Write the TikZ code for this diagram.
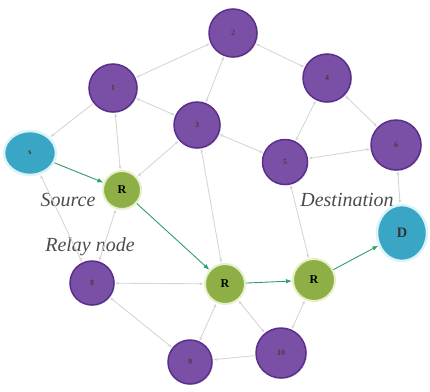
\documentclass[tikz,border=0pt]{standalone}
\usepackage{fontspec}
\setmainfont{Liberation Serif}
\usetikzlibrary{arrows.meta,shadows,shapes.geometric}
\definecolor{purp}{HTML}{7A4FA6}
\definecolor{purpd}{HTML}{5A2E8C}
\definecolor{grn}{HTML}{8DAF45}
\definecolor{grnb}{HTML}{E6F0C8}
\definecolor{blu}{HTML}{3AA6C6}
\definecolor{blub}{HTML}{DDF3FA}
\definecolor{edg}{HTML}{D6D6D6}
\definecolor{garr}{HTML}{2E9E6A}
\begin{document}
\begin{tikzpicture}[x=1pt,y=-1pt,
  pnode/.style={circle,fill=purp,draw=purpd,line width=1.5pt,minimum size=#1,inner sep=0pt,
     font=\footnotesize\bfseries,text=black!75,drop shadow={opacity=0.25,shadow xshift=1pt,shadow yshift=-1pt}},
  gnode/.style={circle,fill=grn,draw=grnb,line width=2pt,minimum size=#1,inner sep=0pt,
     font=\large\bfseries,text=black},
  bnode/.style={ellipse,fill=blu,draw=blub,line width=2.5pt,inner sep=0pt,text=black!80},
  gedge/.style={draw=edg,line width=0.9pt,{Latex[length=4pt,width=3pt]}-{Latex[length=4pt,width=3pt]}},
  gedge1/.style={draw=edg,line width=0.9pt,-{Latex[length=4pt,width=3pt]}},
  redge/.style={draw=garr,line width=0.9pt,-{Latex[length=6pt,width=4.5pt]}},
  lbl/.style={font=\itshape\fontsize{20}{24}\selectfont,text=black!70,inner sep=0pt}]
\useasboundingbox (0,0) rectangle (430,391);
% nodes
\node[pnode=48pt] (n2) at (233,33) {2};
\node[pnode=48pt] (n1) at (113,88) {1};
\node[pnode=48pt] (n4) at (327,78) {4};
\node[pnode=46pt] (n3) at (197,125) {3};
\node[pnode=45pt] (n5) at (285,162) {5};
\node[pnode=50pt] (n6) at (396,145) {6};
\node[pnode=44pt] (n8) at (92,283) {8};
\node[pnode=44pt] (n9) at (190,362) {9};
\node[pnode=50pt] (n10) at (281,353) {10};
\node[gnode=38pt] (r1) at (122,190) {R};
\node[gnode=40pt] (r2) at (225,284) {R};
\node[gnode=42pt] (r3) at (314,280) {R};
\node[bnode,minimum width=52pt,minimum height=44pt,font=\footnotesize\bfseries] (s) at (30,153) {s};
\node[bnode,minimum width=50pt,minimum height=56pt,font=\Large\bfseries] (d) at (402,233) {D};
% labels
\node[lbl] (ls) at (68,200) {Source};
\node[lbl] (lr) at (90,247) {Relay node};
\node[lbl] (ld) at (347,200) {Destination};
% gray links
\draw[gedge] (n2) -- (n1);
\draw[gedge] (n2) -- (n4);
\draw[gedge] (n3) -- (n2);
\draw[gedge1] (n1) -- (s);
\draw[gedge] (n1) -- (n3);
\draw[gedge] (n1) -- (r1);
\draw[gedge] (n3) -- (r1);
\draw[gedge] (n3) -- (n5);
\draw[gedge] (n4) -- (n5);
\draw[gedge] (n4) -- (n6);
\draw[gedge] (n5) -- (n6);
\draw[gedge] (n6) -- (d);
\draw[gedge] (n3) -- (r2);
\draw[gedge] (n5) -- (r3);
\draw[gedge] (s) -- (n8);
\draw[gedge] (r1) -- (n8);
\draw[gedge] (n8) -- (r2);
\draw[gedge] (n8) -- (n9);
\draw[gedge] (r2) -- (n9);
\draw[gedge] (r2) -- (n10);
\draw[gedge] (r3) -- (n10);
\draw[gedge1] (n10) -- (n9);
% route
\draw[redge] (s) -- (r1);
\draw[redge] (r1) -- (r2);
\draw[redge] (r2) -- (r3);
\draw[redge] (r3) -- (d);
\end{tikzpicture}
\end{document}
